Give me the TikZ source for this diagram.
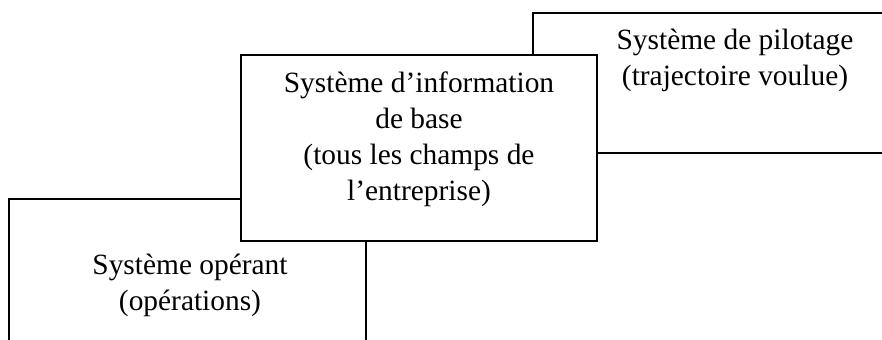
\documentclass[tikz,border=0pt]{standalone}
\usepackage{fontspec}
\setmainfont{Liberation Serif}
\begin{document}
\begin{tikzpicture}[x=0.5pt,y=-0.5pt,
  panel/.style={draw=black, line width=0.7pt, fill=white, inner sep=0pt, outer sep=0pt, anchor=north west},
  caption/.style={font=\fontsize{14.7pt}{18pt}\selectfont, align=center, inner sep=0pt, anchor=base}]
\useasboundingbox (0,0) rectangle (882,340);
\clip (0,0) rectangle (882,340);
% three overlapping subsystems, back to front
\node[panel, minimum width=213.5pt, minimum height=70pt] (pilot) at (533,13) {};
\node[panel, minimum width=178.5pt, minimum height=100.5pt] (oper) at (9,199) {};
\node[panel, minimum width=178pt, minimum height=93pt] (info) at (241,55) {};
% captions, placed by the baseline of their last line
\node[caption] (pilottxt) at (735,86) {Système de pilotage\\(trajectoire voulue)};
\node[caption] (infotxt) at (419,201) {Système d’information\\de base\\(tous les champs de\\l’entreprise)};
\node[caption] (opertxt) at (190,311) {Système opérant\\(opérations)};
\end{tikzpicture}
\end{document}
